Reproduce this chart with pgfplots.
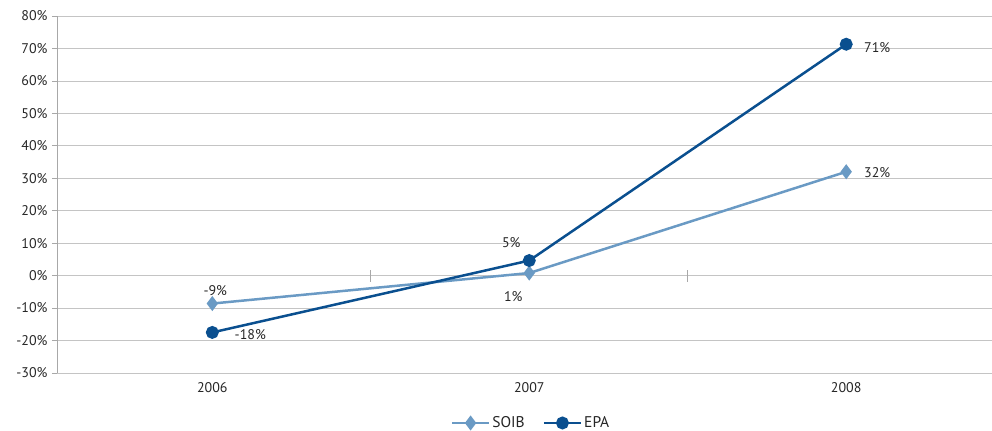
\documentclass[border=0pt]{standalone}
\usepackage{pgfplots}
\pgfplotsset{compat=1.18}
\usepackage{fontspec}
\setmainfont{PT Sans}
\definecolor{soib}{HTML}{6A9AC4}
\definecolor{epa}{HTML}{0A4F8F}
\definecolor{gridc}{HTML}{C4C4C4}
\definecolor{axc}{HTML}{A8A8A8}
\definecolor{txt}{HTML}{262626}
\begin{document}
\begin{tikzpicture}
\begin{axis}[
  scale only axis,
  width=935bp, height=357bp,
  xmin=-0.49, xmax=2.46,
  ymin=-30, ymax=80,
  axis x line=none,
  axis y line*=left,
  y axis line style={color=axc, line width=0.8bp, -},
  ytick={-30,-20,...,80},
  yticklabel={\pgfmathprintnumber{\tick}\%},
  /pgf/number format/assume math mode=true,
  ymajorgrids,
  grid style={color=gridc, line width=0.8bp},
  major tick length=5bp,
  ytick style={color=axc, line width=0.8bp},
  tick align=outside,
  yticklabel style={font=\fontsize{14bp}{16bp}\selectfont, text=txt, xshift=-1bp},
  clip=false,
  legend style={at={(0.507,-0.14)}, anchor=center, draw=none, legend columns=2,
    font=\fontsize{15.5bp}{17bp}\selectfont, text=txt,
    /tikz/every even column/.append style={column sep=16bp}},
  legend cell align=left,
  legend image code/.code={\draw[#1, mark repeat=2, mark phase=2] plot coordinates {(0bp,0bp) (18.5bp,0bp) (37bp,0bp)};},
]
\addplot[soib, line width=2.5bp, mark=diamond*, mark size=5.5bp, mark options={solid, fill=soib, draw=soib}]
  coordinates {(0,-8.6) (1,0.8) (2,32.0)};
\addlegendentry{SOIB}
\addplot[epa, line width=2.5bp, mark=*, mark size=5.2bp, mark options={solid, fill=epa, draw=epa}]
  coordinates {(0,-17.5) (1,4.65) (2,71.3)};
\addlegendentry{EPA}
% category labels
\tikzset{dl/.style={font=\fontsize{14bp}{16bp}\selectfont, text=txt}}
\node[dl] at (axis cs:0,-30) [yshift=-15bp] {2006};
\node[dl] at (axis cs:1,-30) [yshift=-15bp] {2007};
\node[dl] at (axis cs:2,-30) [yshift=-15bp] {2008};
% x-axis separators on zero line
\draw[axc, line width=0.8bp] ([yshift=-6bp]axis cs:0.5,0) -- ([yshift=6bp]axis cs:0.5,0);
\draw[axc, line width=0.8bp] ([yshift=-6bp]axis cs:1.5,0) -- ([yshift=6bp]axis cs:1.5,0);
% data labels
\node[dl] at (axis cs:0,-8.6) [xshift=3bp, yshift=13bp] {-9\%};
\node[dl] at (axis cs:0,-17.5) [xshift=38bp, yshift=-2bp] {-18\%};
\node[dl] at (axis cs:1,4.65) [xshift=-18bp, yshift=18bp] {5\%};
\node[dl] at (axis cs:1,0.8) [xshift=-16bp, yshift=-24bp] {1\%};
\node[dl] at (axis cs:2,71.3) [xshift=31bp, yshift=-3bp] {71\%};
\node[dl] at (axis cs:2,32.0) [xshift=31bp, yshift=-1bp] {32\%};
\end{axis}
\pgfresetboundingbox
\path (current axis.south west) ++(-57bp,-58bp) rectangle ++(992bp,431bp);
\end{tikzpicture}
\end{document}
